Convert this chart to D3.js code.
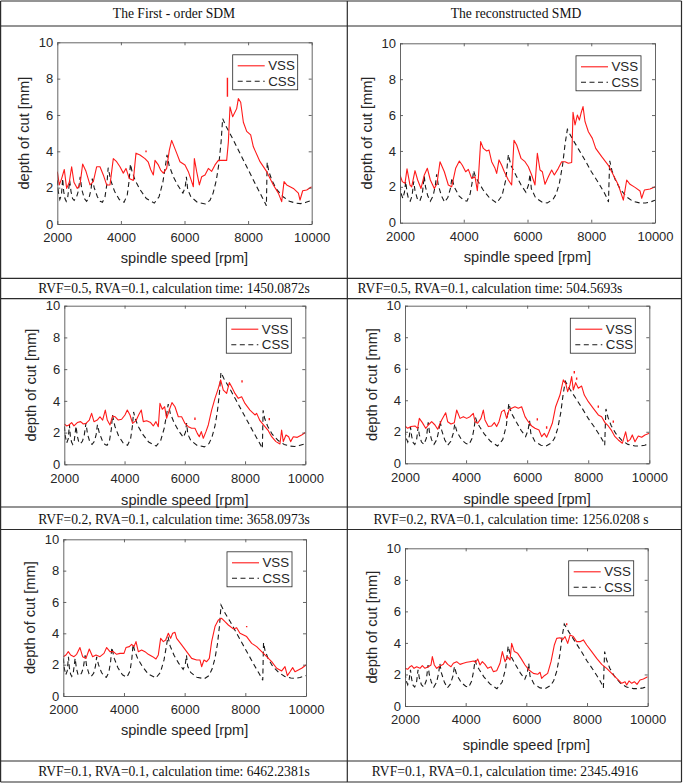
<!DOCTYPE html>
<html><head><meta charset="utf-8">
<script src="https://cdn.jsdelivr.net/npm/d3@7"></script>
<style>body{margin:0;background:#fff}svg{display:block}</style>
</head><body><svg id="c" width="685" height="783"></svg>
<script>
// ---------- data ----------
const xTicks = [2000, 4000, 6000, 8000, 10000];
const yTicks = [0, 2, 4, 6, 8, 10];
const headers = ["The First - order SDM", "The reconstructed SMD"];
const captions = [
  "RVF=0.5, RVA=0.1, calculation time: 1450.0872s",
  "RVF=0.5, RVA=0.1, calculation time: 504.5693s",
  "RVF=0.2, RVA=0.1, calculation time: 3658.0973s",
  "RVF=0.2, RVA=0.1, calculation time: 1256.0208 s",
  "RVF=0.1, RVA=0.1, calculation time: 6462.2381s",
  "RVF=0.1, RVA=0.1, calculation time: 2345.4916"
];
const seriesNames = ["VSS", "CSS"];
const xLabel = "spindle speed [rpm]";
const yLabel = "depth of cut [mm]";

// constant spindle speed lobes (first-order SDM column)
const cssFirst = [
[2000,2.4],[2030,1.8],[2080,1.35],[2130,1.6],[2170,2.5],
[2200,1.8],[2240,1.4],[2280,1.25],[2330,1.5],[2390,2.4],
[2430,1.8],[2480,1.4],[2530,1.3],[2600,1.45],[2660,1.8],[2720,2.6],
[2770,1.9],[2850,1.4],[2920,1.25],[3000,1.45],[3060,1.9],[3100,2.5],
[3160,2.0],[3260,1.5],[3350,1.25],[3420,1.2],[3500,1.5],[3560,2.2],[3600,3.1],
[3680,2.4],[3800,1.8],[3950,1.35],[4100,1.2],[4200,1.6],[4260,2.4],[4300,3.3],
[4350,2.9],[4450,2.4],[4600,1.9],[4800,1.4],[5050,1.15],[5200,1.5],[5320,2.3],[5400,3.2],[5450,3.8],
[5520,3.2],[5650,2.6],[5800,2.1],[5950,1.7],[6020,2.0],[6060,2.6],[6100,1.9],[6200,1.5],[6400,1.2],[6650,1.1],
[6800,1.3],[6900,1.7],[7000,2.4],[7080,3.3],[7150,4.5],[7200,5.8],
[7300,5.4],[7500,4.75],[7700,4.05],[7900,3.35],[8100,2.65],[8300,1.95],[8450,1.45],[8550,1.1],[8575,1.0],[8590,2.5],[8600,3.4],
[8650,2.9],[8750,2.4],[8900,1.9],[9100,1.5],[9300,1.25],[9500,1.15],[9650,1.12],[9800,1.18],[10000,1.3]
];
// constant spindle speed lobes (reconstructed SMD column)
const cssRecon = [
[2000,2.1],[2040,1.6],[2090,1.35],[2140,1.7],[2180,2.3],
[2220,1.7],[2270,1.3],[2320,1.2],[2380,1.5],[2430,2.3],
[2470,1.8],[2540,1.35],[2620,1.2],[2700,1.6],[2760,2.6],
[2800,2.0],[2870,1.5],[2950,1.2],[3040,1.5],[3110,2.1],[3150,2.7],
[3200,2.1],[3300,1.5],[3400,1.15],[3500,1.4],[3580,1.9],[3630,2.5],
[3700,2.0],[3850,1.5],[4000,1.25],[4100,1.2],[4200,1.6],[4260,2.2],[4310,2.9],
[4360,2.6],[4450,2.3],[4600,1.85],[4800,1.4],[5030,1.1],[5200,1.5],[5320,2.4],[5400,3.8],
[5480,3.2],[5650,2.6],[5800,2.1],[5950,1.7],[6030,2.1],[6080,2.7],[6120,1.9],[6250,1.4],[6450,1.15],[6620,1.1],
[6800,1.3],[6900,1.6],[7000,2.2],[7100,3.2],[7180,4.4],[7250,5.2],
[7400,4.7],[7600,4.1],[7800,3.5],[8000,2.85],[8200,2.3],[8400,1.7],[8500,1.35],[8540,1.15],[8560,2.4],[8580,3.45],
[8650,2.9],[8750,2.4],[8900,1.9],[9100,1.45],[9300,1.2],[9530,1.1],[9700,1.1],[9850,1.15],[10000,1.25]
];

const vssA = [
[2000,2.88],[2063,2.15],[2136,2.5],[2220,3.0],[2294,1.96],[2377,2.3],[2451,3.15],[2524,2.3],[2629,1.96],[2713,2.15],
[2797,3.3],[2902,2.9],[3028,2.15],[3132,2.33],[3237,3.15],[3342,3.15],[3447,2.7],[3552,2.15],[3657,2.15],[3761,3.6],
[3866,3.43],[3971,3.15],[4076,2.8],[4160,3.06],[4265,2.5],[4391,2.4],[4474,3.9],[4600,3.8],[4758,3.6],[4862,3.4],
[4936,3.0],[5020,2.7],[5072,3.5],[5177,3.25],[5250,2.97],[5334,2.8],[5439,3.06],[5523,4.07],[5596,4.6],[5754,3.9],
[5858,3.43],[6016,3.25],[6121,2.88],[6226,2.33],[6278,2.05],[6310,3.6],[6383,2.88],[6467,2.15],[6540,2.6],[6645,2.7],
[6750,3.06],[6855,2.9],[6959,3.25],[7064,3.5],[7221,3.5],[7326,3.5],[7379,4.5],[7431,6.45],[7515,5.9],[7641,6.35],
[7693,6.9],[7767,6.7],[7851,5.6],[7956,5.1],[8081,4.9],[8165,4.25],[8375,3.43],[8585,2.88],[8794,2.15],[8951,1.7],
[9056,1.23],[9130,2.33],[9214,2.15],[9424,1.96],[9581,1.7],[9633,1.32],[9717,1.83],[9843,1.87],[10000,2.05]
];
const vssB = [
[2000,2.66],[2073,2.29],[2157,2.19],[2220,3.0],[2314,2.1],[2366,2.0],[2471,2.9],[2554,2.38],[2659,1.91],[2763,2.66],
[2858,3.03],[2952,2.38],[3077,1.91],[3161,2.19],[3255,3.4],[3391,2.84],[3516,2.1],[3621,2.0],[3746,3.03],[3862,3.44],
[3956,3.2],[4060,2.84],[4144,2.97],[4248,2.47],[4353,2.56],[4426,1.78],[4458,2.47],[4531,4.52],[4614,4.14],[4719,4.0],
[4792,4.05],[4876,3.4],[4981,3.03],[5033,2.75],[5106,3.5],[5190,3.2],[5273,2.84],[5399,2.38],[5503,2.1],[5576,4.6],
[5660,4.33],[5796,3.59],[5922,3.4],[6026,3.12],[6131,2.66],[6235,2.1],[6309,3.87],[6392,2.94],[6466,2.84],[6549,2.14],
[6654,2.56],[6758,2.94],[6842,2.66],[6967,3.03],[7072,3.4],[7177,3.4],[7281,3.31],[7386,3.36],[7428,6.15],[7491,5.45],
[7564,6.0],[7627,5.72],[7679,6.1],[7742,6.47],[7805,5.63],[7910,5.07],[8035,4.7],[8140,4.14],[8328,3.68],[8537,3.2],
[8693,2.66],[8850,2.1],[9007,1.26],[9112,2.38],[9216,2.14],[9373,1.97],[9530,1.77],[9582,1.36],[9666,1.82],[9844,1.88],[10000,2.0]
];
const vssC = [
[2000,2.54],[2077,2.42],[2155,2.48],[2243,2.63],[2321,2.42],[2432,2.63],[2542,2.69],[2631,2.54],[2719,2.58],[2830,2.79],
[2907,3.21],[2985,2.69],[3095,2.79],[3184,3.0],[3272,2.79],[3361,3.42],[3427,2.79],[3516,2.48],[3604,3.05],[3682,3.0],
[3793,2.79],[3903,2.84],[4014,3.11],[4091,3.42],[4180,3.11],[4268,2.58],[4379,2.75],[4467,3.11],[4556,3.42],[4622,2.69],
[4733,2.75],[4866,2.63],[4954,2.42],[5043,2.69],[5120,2.37],[5176,3.84],[5253,3.47],[5331,3.63],[5397,2.9],[5485,3.42],
[5574,3.89],[5674,3.63],[5784,3.0],[5895,3.0],[6006,2.58],[6116,2.37],[6227,2.27],[6337,2.27],[6415,1.95],[6481,1.74],
[6548,2.06],[6614,1.64],[6703,2.06],[6780,2.48],[6891,3.42],[7002,4.16],[7112,4.79],[7190,5.32],[7278,4.68],[7389,4.47],
[7477,5.15],[7555,4.89],[7665,4.47],[7776,4.16],[7887,4.26],[7997,3.84],[8163,3.42],[8329,3.11],[8385,3.21],[8495,2.75],
[8661,2.37],[8772,2.12],[8883,1.74],[9026,1.43],[9159,1.28],[9214,2.16],[9270,1.43],[9358,1.85],[9447,1.74],[9513,1.43],
[9602,1.74],[9734,1.7],[9878,1.85],[10000,2.0]
];
const vssD = [
[2000,2.37],[2087,2.22],[2196,2.33],[2327,2.37],[2415,2.22],[2469,2.85],[2568,2.58],[2677,2.22],[2764,2.43],[2873,2.64],
[2982,2.43],[3070,2.16],[3201,2.75],[3332,3.21],[3397,2.64],[3506,2.49],[3615,2.58],[3692,3.38],[3801,2.85],[3910,2.96],
[4019,2.85],[4128,2.96],[4237,3.17],[4292,2.64],[4379,2.54],[4488,2.85],[4565,3.38],[4619,2.75],[4729,2.33],[4838,2.37],
[4925,2.58],[5001,2.33],[5078,2.64],[5165,3.28],[5252,3.38],[5329,2.85],[5405,3.38],[5492,3.49],[5602,3.59],[5711,3.49],
[5820,3.59],[5930,2.96],[6038,2.64],[6147,2.37],[6256,2.22],[6387,2.11],[6475,1.69],[6562,1.9],[6638,1.65],[6715,2.0],
[6824,2.54],[6933,3.59],[7075,4.33],[7184,5.29],[7261,5.07],[7326,4.55],[7403,4.97],[7457,5.5],[7512,4.65],[7588,5.12],
[7675,4.76],[7784,4.9],[7872,4.33],[8003,3.91],[8166,3.49],[8330,3.07],[8439,2.96],[8548,2.58],[8657,2.37],[8767,2.07],
[8876,1.69],[8985,1.48],[9116,1.27],[9225,2.0],[9291,1.37],[9378,1.52],[9443,1.8],[9531,1.37],[9640,1.73],[9749,1.65],
[9858,1.8],[10000,1.9]
];
const vssE = [
[2000,2.51],[2088,2.62],[2165,2.83],[2242,2.62],[2352,2.51],[2440,2.66],[2549,3.09],[2637,2.51],[2747,2.4],[2857,3.0],
[2967,2.51],[3077,2.62],[3209,2.51],[3341,2.72],[3429,3.09],[3538,2.83],[3648,2.83],[3758,2.66],[3868,2.72],[4000,2.72],
[4066,3.09],[4176,3.15],[4253,3.3],[4330,3.15],[4396,3.47],[4473,2.83],[4582,2.94],[4692,2.83],[4802,2.66],[4945,2.51],
[5055,2.36],[5132,2.62],[5209,3.68],[5297,3.47],[5374,3.57],[5462,4.0],[5538,3.68],[5604,4.0],[5681,4.06],[5736,3.68],
[5901,3.26],[6066,2.83],[6231,2.4],[6396,2.3],[6505,2.3],[6560,1.87],[6637,2.3],[6725,2.19],[6813,2.4],[6890,3.47],
[7000,4.43],[7110,4.85],[7220,4.96],[7330,4.74],[7440,4.53],[7604,4.28],[7714,4.36],[7824,4.0],[8044,3.79],[8209,3.36],
[8374,3.15],[8538,2.83],[8703,2.51],[8868,2.19],[9033,1.77],[9198,1.6],[9308,1.87],[9385,1.3],[9473,1.55],[9560,1.81],
[9637,1.55],[9747,1.66],[9857,1.77],[10000,1.98]
];
const vssF = [
[2000,2.39],[2088,2.33],[2165,2.49],[2220,2.56],[2297,2.39],[2385,2.49],[2495,2.39],[2571,2.56],[2659,2.39],[2769,2.49],
[2857,2.6],[2901,3.13],[2967,2.6],[3044,2.39],[3154,2.54],[3264,2.64],[3319,2.85],[3407,2.64],[3516,2.49],[3593,2.71],
[3703,2.81],[3813,2.64],[3923,2.71],[4033,2.77],[4143,2.81],[4253,2.85],[4330,2.77],[4396,2.98],[4473,2.6],[4549,2.81],
[4637,2.64],[4725,2.39],[4835,2.49],[4912,2.18],[5022,2.24],[5132,2.71],[5209,3.45],[5297,2.81],[5374,3.13],[5462,2.92],
[5516,3.97],[5604,3.45],[5714,3.34],[5824,3.02],[5956,2.6],[6088,2.28],[6231,2.07],[6374,2.01],[6451,2.14],[6505,1.75],
[6593,1.92],[6703,2.07],[6813,2.81],[6923,3.87],[7000,4.29],[7110,4.33],[7187,4.19],[7275,4.4],[7363,3.97],[7440,4.5],
[7549,4.4],[7659,4.08],[7769,4.08],[7879,4.19],[7989,3.87],[8154,3.45],[8319,3.02],[8484,2.64],[8648,2.39],[8813,2.07],
[8978,1.75],[9143,1.44],[9253,1.54],[9308,1.33],[9385,1.59],[9473,1.44],[9560,1.54],[9648,1.37],[9747,1.65],[9857,1.71],[10000,1.86]
];
// isolated red fragments: [rpm, from, to]
const specksA = [[7350,7.0,8.05],[4790,3.95,4.05]];
const specksB = [];
const specksC = [[7900,5.15,5.3],[6337,2.8,2.95],[8805,2.78,2.92]];
const specksD = [[7544,5.7,5.85],[7621,5.3,5.45],[6333,2.72,2.86],[6638,2.2,2.35],[8330,3.52,3.66],[8821,2.58,2.72]];
const specksE = [[8044,4.38,4.46]];
const specksF = [[7330,5.12,5.24]];

// ---------- layout ----------
const panels = [
  {vss: vssA, css: cssFirst, sp: specksA, L: 57.3, R: 311.7, T: 42.3, B: 224, xl: 258},
  {vss: vssB, css: cssRecon, sp: specksB, L: 400, R: 655, T: 43.3, B: 222.7, xl: 257},
  {vss: vssC, css: cssFirst, sp: specksC, L: 64.3, R: 305.3, T: 305.7, B: 464.3, xl: 500},
  {vss: vssD, css: cssRecon, sp: specksD, L: 405, R: 649.3, T: 305.7, B: 463.3, xl: 499},
  {vss: vssE, css: cssFirst, sp: specksE, L: 63.3, R: 306, T: 539.3, B: 696, xl: 730},
  {vss: vssF, css: cssRecon, sp: specksF, L: 405, R: 647.7, T: 548.3, B: 706, xl: 745}
];
const captionPos = [
  {x: 174, y: 293}, {x: 490, y: 293},
  {x: 174, y: 523.5}, {x: 511, y: 523.5},
  {x: 174, y: 776}, {x: 505, y: 776}
];

const svg = d3.select("#c");
const serif = "'Liberation Serif','Times New Roman',serif";
const sans = "'Liberation Sans',Arial,Helvetica,sans-serif";
const textCol = "#262626";
const red = "#ff1a1a";

// table grid
const tbl = svg.append("g").attr("stroke", "#2b2b2b").attr("stroke-width", 1.2).attr("fill", "none");
[1, 26, 278.3, 298.7, 507, 529.5, 761, 782].forEach(yv =>
  tbl.append("line").attr("x1", 0.6).attr("x2", 681.5).attr("y1", yv).attr("y2", yv));
[0.6, 347.3, 681.5].forEach(xv =>
  tbl.append("line").attr("x1", xv).attr("x2", xv).attr("y1", 1).attr("y2", 782));

// headers
svg.append("text").attr("x", 174).attr("y", 17.5).attr("text-anchor", "middle")
  .attr("font-family", serif).attr("font-size", 13.6).attr("fill", "#111").text(headers[0]);
svg.append("text").attr("x", 516).attr("y", 17.5).attr("text-anchor", "middle")
  .attr("font-family", serif).attr("font-size", 13.6).attr("fill", "#111").text(headers[1]);

captions.forEach((c, i) => {
  svg.append("text").attr("x", captionPos[i].x).attr("y", captionPos[i].y).attr("text-anchor", "middle")
    .attr("font-family", serif).attr("font-size", 13.6).attr("fill", "#111").text(c);
});

panels.forEach((p, i) => {
  const g = svg.append("g");
  const x = d3.scaleLinear().domain([2000, 10000]).range([p.L, p.R]);
  const y = d3.scaleLinear().domain([0, 10]).range([p.B, p.T]);
  const cid = "clip" + i;
  svg.append("clipPath").attr("id", cid).append("rect")
    .attr("x", p.L).attr("y", p.T).attr("width", p.R - p.L).attr("height", p.B - p.T);

  const line = d3.line().x(d => x(d[0])).y(d => y(d[1]));
  const plot = g.append("g").attr("clip-path", `url(#${cid})`);
  plot.append("path").datum(p.css).attr("d", line).attr("fill", "none")
    .attr("stroke", "#1a1a1a").attr("stroke-width", 1.1).attr("stroke-dasharray", "5,3.5");
  plot.append("path").datum(p.vss).attr("d", line).attr("fill", "none")
    .attr("stroke", red).attr("stroke-width", 1.1).attr("stroke-linejoin", "round");
  plot.selectAll(".sp").data(p.sp).enter().append("line")
    .attr("x1", d => x(d[0])).attr("x2", d => x(d[0]))
    .attr("y1", d => y(d[1])).attr("y2", d => y(d[2]))
    .attr("stroke", red).attr("stroke-width", 1.4);

  const styleAxis = sel => {
    sel.selectAll("path").attr("stroke", "#555").attr("stroke-width", 0.9);
    sel.selectAll("line").attr("stroke", "#555").attr("stroke-width", 0.9);
    sel.selectAll("text").attr("font-family", sans).attr("font-size", 13).attr("fill", textCol);
  };
  g.append("g").attr("transform", `translate(0,${p.B})`)
    .call(d3.axisBottom(x).tickValues(xTicks).tickFormat(d3.format("d")).tickSizeInner(-3).tickSizeOuter(0).tickPadding(9))
    .call(styleAxis);
  g.append("g").attr("transform", `translate(0,${p.T})`)
    .call(d3.axisTop(x).tickValues(xTicks).tickFormat("").tickSizeInner(-3).tickSizeOuter(0))
    .call(styleAxis);
  g.append("g").attr("transform", `translate(${p.L},0)`)
    .call(d3.axisLeft(y).tickValues(yTicks).tickFormat(d3.format("d")).tickSizeInner(-3).tickSizeOuter(0).tickPadding(4))
    .call(styleAxis);
  g.append("g").attr("transform", `translate(${p.R},0)`)
    .call(d3.axisRight(y).tickValues(yTicks).tickFormat("").tickSizeInner(-3).tickSizeOuter(0))
    .call(styleAxis);

  // axis labels
  g.append("text").attr("x", (p.L + p.R) / 2).attr("y", p.xl).attr("dy", "0.35em")
    .attr("text-anchor", "middle").attr("font-family", sans).attr("font-size", 14.6)
    .attr("fill", textCol).text(xLabel);
  g.append("text").attr("transform", `translate(${p.L - 33},${(p.T + p.B) / 2}) rotate(-90)`)
    .attr("dy", "0.35em").attr("text-anchor", "middle").attr("font-family", sans)
    .attr("font-size", 14.6).attr("fill", textCol).text(yLabel);

  // legend
  const bx = p.R - 79, by = p.T + 12.5, bw = 65, bh = 35;
  const lg = g.append("g");
  lg.append("rect").attr("x", bx).attr("y", by).attr("width", bw).attr("height", bh)
    .attr("fill", "#fff").attr("stroke", "#262626").attr("stroke-width", 0.8);
  const rows = [{name: seriesNames[0], col: red, dash: null}, {name: seriesNames[1], col: "#1a1a1a", dash: "5,3.5"}];
  rows.forEach((r, k) => {
    const yy = by + 11 + k * 15.5;
    lg.append("line").attr("x1", bx + 5).attr("x2", bx + 32).attr("y1", yy).attr("y2", yy)
      .attr("stroke", r.col).attr("stroke-width", 1.1).attr("stroke-dasharray", r.dash);
    lg.append("text").attr("x", bx + 35.5).attr("y", yy).attr("dy", "0.35em")
      .attr("font-family", sans).attr("font-size", 13.3).attr("fill", textCol).text(r.name);
  });
});
</script></body></html>
